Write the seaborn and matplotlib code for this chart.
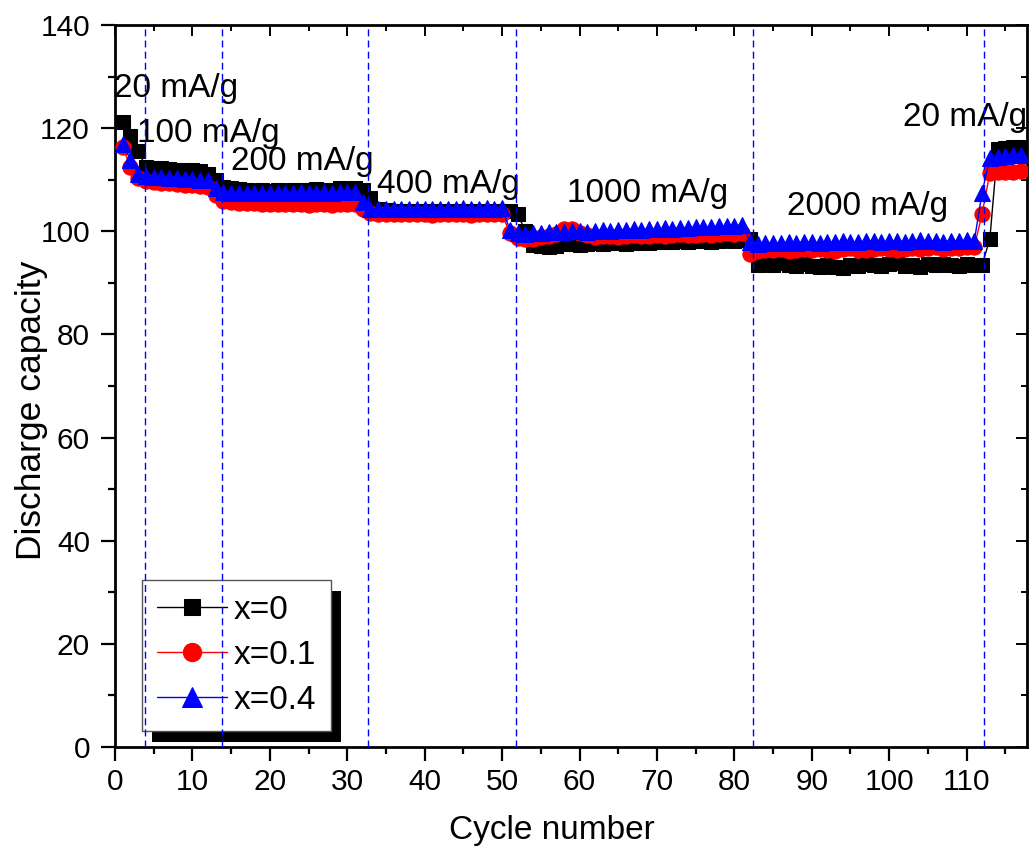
import numpy as np
import pandas as pd
import matplotlib
matplotlib.use("Agg")
import matplotlib.pyplot as plt
from matplotlib.patches import Rectangle
import seaborn as sns

# --- data ------------------------------------------------------------------
cycles = list(range(1, 118))

cap_x0 = [121.2, 118.5, 115.5, 112.5, 112.3, 112.2, 112.0, 111.9, 111.8, 111.8, 111.6, 111.2, 110.0,
          108.6, 108.3, 108.2, 108.0, 107.9, 108.0, 107.9, 108.1, 107.9, 108.0, 108.0, 108.1, 108.2,
          108.0, 108.1, 108.3, 108.2, 108.3, 108.0,
          106.5, 104.3, 104.1, 104.0, 104.0, 103.9, 104.0, 104.0, 103.9, 104.0, 104.0, 103.9, 104.0,
          104.0, 103.9, 104.0, 104.0, 104.0, 103.9, 103.4,
          100.0, 97.4, 97.2, 97.0, 97.1, 97.5, 97.6, 97.4, 97.6, 97.7, 97.6, 97.7, 97.8, 97.6, 97.9,
          97.8, 97.7, 98.0, 97.9, 98.0, 98.1, 97.9, 98.1, 98.2, 98.0, 98.2, 98.3, 98.2, 98.4, 98.6,
          93.5, 93.6, 93.4, 93.8, 93.5, 93.3, 93.6, 93.2, 93.0, 93.4, 93.1, 92.9, 93.5, 93.3, 93.7,
          93.4, 93.2, 93.6, 93.8, 93.3, 93.5, 93.1, 93.6, 93.4, 93.7, 93.5, 93.3, 93.6, 93.4, 93.5,
          98.5, 116.0, 116.2, 116.3, 116.4]

cap_x01 = [116.3, 112.5, 110.3, 109.8, 109.6, 109.4, 109.3, 109.2, 109.0, 108.9, 108.8, 108.6, 107.0,
           105.8, 105.6, 105.5, 105.5, 105.4, 105.3, 105.3, 105.2, 105.2, 105.3, 105.2, 105.1, 105.2,
           105.2, 105.1, 105.2, 105.3, 105.2, 104.4,
           103.5, 103.4, 103.3, 103.4, 103.3, 103.3, 103.4, 103.3, 103.2, 103.3, 103.3, 103.4, 103.3,
           103.2, 103.3, 103.4, 103.3, 103.4, 99.6,
           98.7, 98.5, 98.6, 98.8, 99.0, 99.4, 100.4, 100.5, 99.6, 99.2, 98.9, 99.0, 99.1, 98.9, 99.0,
           99.2, 99.0, 99.1, 99.3, 99.1, 99.2, 99.4, 99.2, 99.3, 99.5, 99.3, 99.4, 99.6, 99.5, 99.6, 95.6,
           96.2, 96.4, 96.3, 96.5, 96.2, 96.4, 96.6, 96.3, 96.5, 96.4, 96.2, 96.5, 96.7, 96.4, 96.3,
           96.6, 96.8, 96.5, 96.4, 96.6, 96.8, 96.5, 96.7, 96.9, 96.6, 96.8, 96.7, 96.9, 97.0, 103.4,
           111.3, 111.4, 111.5, 111.5, 111.6]

cap_x04 = [117.0, 113.8, 111.2, 110.8, 110.6, 110.5, 110.4, 110.3, 110.2, 110.1, 110.0, 109.9, 108.4,
           107.6, 107.5, 107.5, 107.4, 107.5, 107.4, 107.5, 107.5, 107.4, 107.5, 107.6, 107.5, 107.5,
           107.6, 107.5, 107.6, 107.7, 107.6, 105.6,
           104.4, 104.3, 104.4, 104.3, 104.4, 104.4, 104.3, 104.4, 104.4, 104.3, 104.4, 104.4, 104.5,
           104.4, 104.4, 104.5, 104.4, 104.5, 100.3,
           99.6, 99.5, 99.7, 99.6, 99.8, 99.9, 99.8, 100.0, 100.1, 99.9, 100.1, 100.2, 100.1, 100.3,
           100.2, 100.4, 100.3, 100.5, 100.4, 100.6, 100.5, 100.7, 100.6, 100.8, 100.9, 100.8, 101.0,
           101.1, 101.0, 101.3, 98.0,
           97.6, 97.7, 97.8, 97.7, 97.9, 97.8, 98.0, 97.9, 97.8, 98.0, 97.9, 98.1, 98.0, 97.9, 98.1,
           98.2, 98.0, 98.1, 98.2, 98.0, 98.1, 98.3, 98.1, 98.2, 98.0, 98.2, 98.1, 98.3, 98.2, 107.5,
           114.2, 114.5, 114.6, 114.7, 114.8]

series_labels = ["x=0", "x=0.1", "x=0.4"]
rate_switch = [3.9, 13.8, 32.7, 51.8, 82.4, 112.3]
rate_labels = ["20 mA/g", "100 mA/g", "200 mA/g", "400 mA/g", "1000 mA/g", "2000 mA/g", "20 mA/g"]
rate_label_xy = [(-0.1, 126.0), (2.9, 117.3), (15.0, 111.9), (33.9, 107.4),
                 (58.4, 105.7), (86.8, 103.1), (101.8, 120.4)]

# --- style -----------------------------------------------------------------
sns.set_style("ticks")
plt.rcParams["font.family"] = ["Liberation Sans", "DejaVu Sans"]
for key in ["text.color", "axes.labelcolor", "xtick.color", "ytick.color", "axes.edgecolor"]:
    plt.rcParams[key] = "black"

fig = plt.figure(figsize=(10.31, 8.55), dpi=100)
ax = fig.add_axes([115 / 1031, 1 - 747 / 855, 912 / 1031, 722 / 855])

df = pd.DataFrame({"cycle": cycles, "x=0": cap_x0, "x=0.1": cap_x01, "x=0.4": cap_x04})
styles = [("black", "s", 10), ("red", "o", 11), ("blue", "^", 12)]
for lab, (col, mk, ms) in zip(series_labels, styles):
    sns.lineplot(data=df, x="cycle", y=lab, ax=ax, color=col, marker=mk, markersize=ms,
                 markeredgecolor=col, linewidth=1, label=lab, zorder=3)

for xv in rate_switch:
    ax.axvline(xv, color="blue", linestyle=(0, (5, 3)), linewidth=1, zorder=6)

for txt, (tx, ty) in zip(rate_labels, rate_label_xy):
    ax.text(tx, ty, txt, fontsize=24, color="black", ha="left", va="baseline",
            zorder=2, clip_on=False)

ax.set_xlim(0, 117.8)
ax.set_ylim(0, 140)
ax.set_xticks(np.arange(0, 111, 10))
ax.set_xticks(np.arange(5, 118, 10), minor=True)
ax.set_yticks(np.arange(0, 141, 20))
ax.set_yticks(np.arange(10, 140, 20), minor=True)
for s in ax.spines.values():
    s.set_visible(True)
    s.set_linewidth(2)
    s.set_color("black")
ax.tick_params(which="major", direction="out", length=10, width=1.6, labelsize=21.5,
               colors="black")
ax.tick_params(axis="x", which="major", pad=5)
ax.tick_params(axis="y", which="major", pad=8)
ax.tick_params(which="minor", direction="out", length=5, width=1.6, colors="black")

# inward ticks on top and right, no labels
ax_top = ax.secondary_xaxis("top")
ax_top.set_xticks(np.arange(0, 111, 10))
ax_top.set_xticks(np.arange(5, 118, 10), minor=True)
ax_top.tick_params(which="major", direction="in", length=8, width=1.4, labeltop=False)
ax_top.tick_params(which="minor", direction="in", length=4, width=1.4)
ax_right = ax.secondary_yaxis("right")
ax_right.set_yticks(np.arange(0, 141, 20))
ax_right.set_yticks(np.arange(10, 140, 20), minor=True)
ax_right.tick_params(which="major", direction="in", length=8, width=1.4, labelright=False)
ax_right.tick_params(which="minor", direction="in", length=4, width=1.4)

ax.set_xlabel("Cycle number", fontsize=24)
ax.set_ylabel("Discharge capacity", fontsize=25.5)
ax.xaxis.set_label_coords(0.479, -0.115)
ax.yaxis.set_label_coords(-0.092, 0.467)
ax.xaxis.label.set_va("center")
ax.yaxis.label.set_va("center")

leg = ax.legend(loc="upper left", bbox_to_anchor=(142 / 1031, 1 - 580 / 855),
                bbox_transform=fig.transFigure, borderaxespad=0, fontsize=24,
                frameon=True, fancybox=False, framealpha=1, edgecolor="#555555",
                handlelength=2.1, handletextpad=0.2, labelspacing=0.42, borderpad=0.45,
                markerscale=1.2)
leg.get_frame().set_linewidth(1)
leg.set_zorder(5)

# solid drop shadow behind the legend box
fig.canvas.draw()
bb = leg.get_window_extent()
(x0, y0), (x1, y1) = ax.transAxes.inverted().transform([[bb.x0, bb.y0], [bb.x1, bb.y1]])
dx, dy = 10 / 912, 11 / 722
ax.add_patch(Rectangle((x0 + dx, y0 - dy), x1 - x0, y1 - y0, transform=ax.transAxes,
                       facecolor="black", edgecolor="none", zorder=4.9, clip_on=False))

fig.savefig("out.png", dpi=100)
